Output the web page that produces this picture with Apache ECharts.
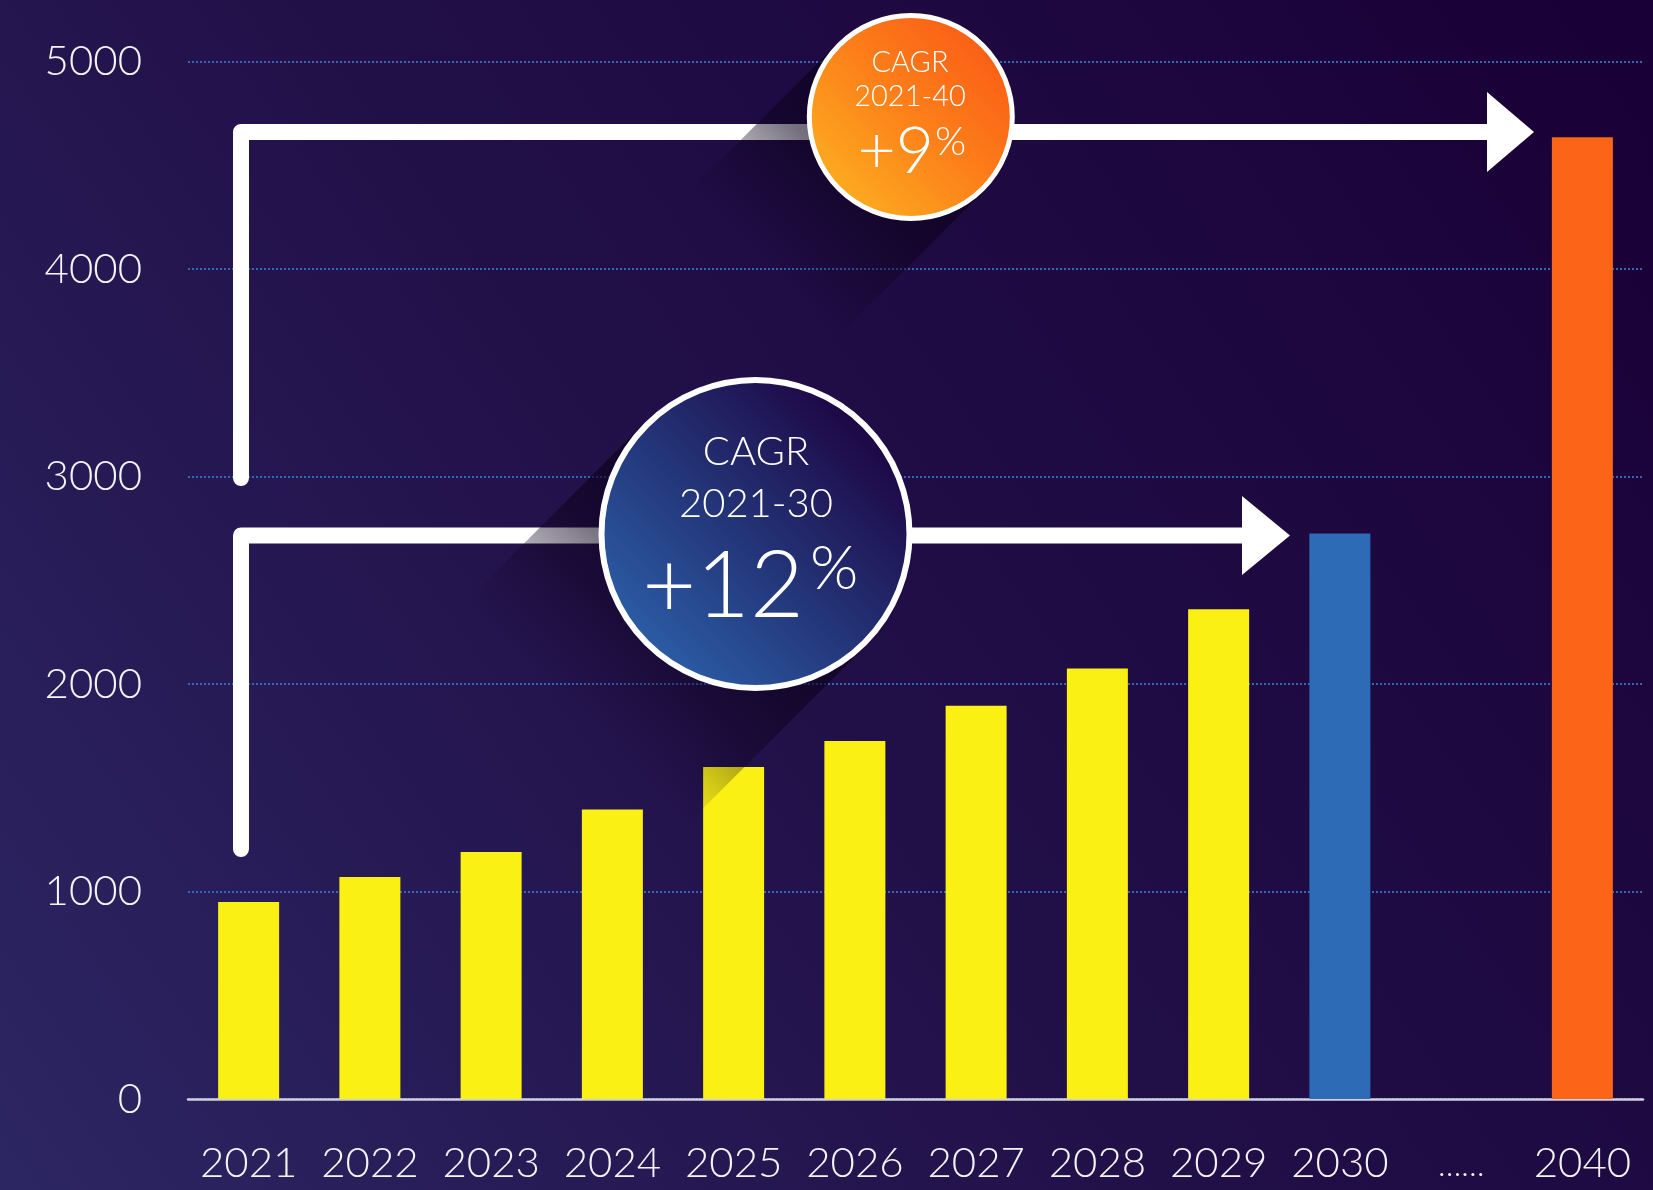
<!DOCTYPE html>
<html>
<head>
<meta charset="utf-8">
<script src="https://cdn.jsdelivr.net/npm/echarts@6/dist/echarts.min.js"></script>
<style>
html,body{margin:0;padding:0;background:#1f0a45;}
#main{width:1653px;height:1190px;}
</style>
</head>
<body>
<div id="main"></div>
<script>
// data
var years = ['2021','2022','2023','2024','2025','2026','2027','2028','2029','2030','……','2040'];
var volume = [950,1070,1190,1395,1600,1725,1895,2075,2360,2725,null,4635];
var cagr30 = ['CAGR','2021-30','+12','%'];
var cagr40 = ['CAGR','2021-40','+9','%'];

var FONT = "Lato, 'Noto Sans', sans-serif";
var chart = echarts.init(document.getElementById('main'));

function barColor(p){
	if(p.name === '2030') return '#2D6BB6';
	if(p.name === '2040') return '#FC6518';
	return '#FAF014';
}

// long shadow going down-left from a circle
function longShadow(cx, cy, r, len){
	var a = r / Math.SQRT2, b = len / Math.SQRT2;
	return {
		type:'polygon', z:30, silent:true,
		shape:{points:[[cx-a,cy-a],[cx+a,cy+a],[cx+a-b,cy+a+b],[cx-a-b,cy-a+b]]},
		style:{fill:{type:'linear', global:true, x:cx, y:cy, x2:cx-b, y2:cy+b,
			colorStops:[
				{offset:0, color:'rgba(12,2,28,0.72)'},
				{offset:0.42, color:'rgba(12,2,28,0.57)'},
				{offset:0.64, color:'rgba(12,2,28,0.35)'},
				{offset:0.82, color:'rgba(12,2,28,0.16)'},
				{offset:1, color:'rgba(12,2,28,0)'}
			]}}
	};
}

function txt(t, x, y, size, align){
	return {type:'text', z:50, silent:true,
		style:{text:t, x:x, y:y, fill:'#FFFFFF', fontSize:size, fontFamily:FONT, fontWeight:300,
			align:align || 'center', verticalAlign:'middle'}};
}

var graphics = [
	// brackets
	{type:'polyline', z:20, shape:{points:[[241,478],[241,132],[1492,132]]},
		style:{stroke:'#FFFFFF', lineWidth:16, fill:null, lineJoin:'round', lineCap:'round'}},
	{type:'polygon', z:20, shape:{points:[[1487,92],[1534,132],[1487,172]]}, style:{fill:'#FFFFFF'}},
	{type:'polyline', z:20, shape:{points:[[241,849],[241,535.5],[1246,535.5]]},
		style:{stroke:'#FFFFFF', lineWidth:16, fill:null, lineJoin:'round', lineCap:'round'}},
	{type:'polygon', z:20, shape:{points:[[1242,496],[1290,535.5],[1242,575]]}, style:{fill:'#FFFFFF'}},
	// shadows
	longShadow(910.8, 117, 104, 210),
	longShadow(755.5, 534, 157, 255),
	// circles
	{type:'circle', z:40, shape:{cx:910.8, cy:117, r:101.5},
		style:{stroke:'#FFFFFF', lineWidth:5,
			fill:{type:'linear', x:0.15, y:0.85, x2:0.85, y2:0.15,
				colorStops:[{offset:0,color:'#FDAA1F'},{offset:0.55,color:'#FC7D19'},{offset:1,color:'#FB5F16'}]}}},
	{type:'circle', z:40, shape:{cx:755.5, cy:534, r:154},
		style:{stroke:'#FFFFFF', lineWidth:6,
			fill:{type:'linear', x:0.15, y:0.85, x2:0.85, y2:0.15,
				colorStops:[{offset:0,color:'#2B5CA5'},{offset:0.5,color:'#233275'},{offset:1,color:'#1E0644'}]}}},
	// texts
	txt(cagr40[0], 910, 62.5, 29),
	txt(cagr40[1], 910, 97, 29),
	txt(cagr40[2], 934, 152, 66, 'right'),
	txt(cagr40[3], 935, 142.5, 40, 'left'),
	txt(cagr30[0], 756, 452.5, 40),
	txt(cagr30[1], 756, 504, 40),
	txt(cagr30[2], 804, 587, 93, 'right'),
	txt(cagr30[3], 810, 569, 62, 'left')
];

var option = {
	backgroundColor:{type:'linear', x:0, y:1, x2:1, y2:0,
		colorStops:[{offset:0,color:'#2C2663'},{offset:0.45,color:'#221049'},{offset:1,color:'#190036'}]},
	animation:false,
	grid:{left:188, right:10, top:61.5, bottom:91, containLabel:false, outerBoundsMode:'none'},
	xAxis:{
		type:'category', data:years,
		axisLine:{lineStyle:{color:'#CFCFE0', width:2.5}},
		axisTick:{show:false},
		axisLabel:{color:'#F4F4F8', fontSize:42, fontFamily:FONT, fontWeight:300, margin:43, interval:0,
			formatter:function(v){ return v === '……' ? '{d|' + v + '}' : v; },
			rich:{d:{color:'#F4F4F8', fontSize:32, fontFamily:FONT, fontWeight:300, padding:[8,0,0,0]}}}
	},
	yAxis:{
		type:'value', min:0, max:5000, interval:1000,
		axisLine:{show:false}, axisTick:{show:false},
		axisLabel:{color:'#F4F4F8', fontSize:42, fontFamily:FONT, fontWeight:300, margin:46,
			formatter:function(v){ return String(v); }},
		splitLine:{lineStyle:{color:'#3766B9', width:2, type:[2,2]}}
	},
	series:[{
		type:'bar', data:volume, barWidth:61, z:2,
		itemStyle:{color:barColor}
	}],
	graphic:graphics
};
chart.setOption(option);
</script>
</body>
</html>
